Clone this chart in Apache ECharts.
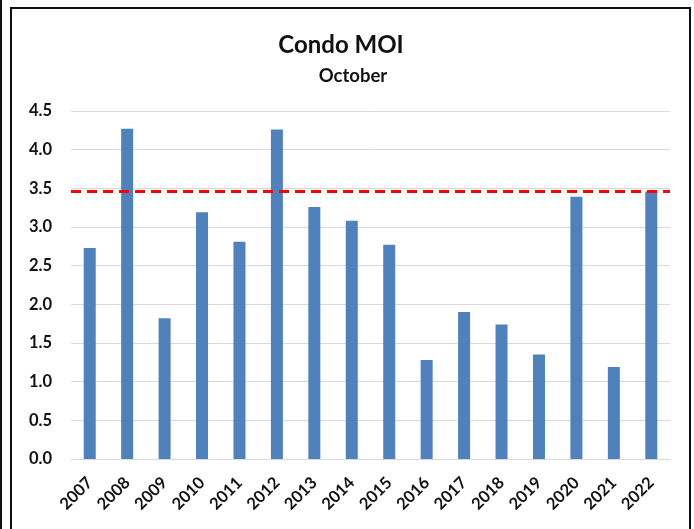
<!DOCTYPE html>
<html>
<head>
<meta charset="utf-8">
<script src="https://cdn.jsdelivr.net/npm/echarts@6/dist/echarts.min.js"></script>
<style>
  html, body { margin: 0; padding: 0; background: #fff; }
  #chart { width: 694px; height: 529px; }
</style>
</head>
<body>
<div id="chart"></div>
<script>
const years = ['2007', '2008', '2009', '2010', '2011', '2012', '2013', '2014',
  '2015', '2016', '2017', '2018', '2019', '2020', '2021', '2022']
const moi = [2.73, 4.27, 1.82, 3.19, 2.81, 4.26, 3.26, 3.08,
  2.77, 1.28, 1.90, 1.74, 1.35, 3.39, 1.19, 3.46]
const currentLevel = 3.46

const font = 'Lato, "Open Sans", sans-serif'
const chart = echarts.init(document.getElementById('chart'))

chart.setOption({
  animation: false,
  title: [{
    text: 'Condo MOI',
    left: 336,
    top: 28,
    textAlign: 'center',
    textStyle: { fontFamily: font, fontSize: 24, fontWeight: 'bold', color: '#111' }
  }, {
    text: 'October',
    left: 348,
    top: 62,
    textAlign: 'center',
    textStyle: { fontFamily: font, fontSize: 18.5, fontWeight: 'bold', color: '#111' }
  }],
  graphic: [
    { type: 'rect', shape: { x: 1, y: -5, width: 0, height: 540 }, style: { stroke: '#111', lineWidth: 2, fill: null } },
    { type: 'rect', shape: { x: 11, y: 8, width: 679, height: 540 }, style: { stroke: '#111', lineWidth: 2, fill: null } }
  ],
  grid: { left: 71, right: 24, top: 111, bottom: 70 },
  xAxis: {
    type: 'category',
    data: years,
    axisLine: { lineStyle: { color: '#d9d9d9' } },
    axisTick: { show: false },
    axisLabel: {
      rotate: 45,
      margin: 21,
      interval: 0,
      fontFamily: font,
      fontSize: 16.5,
      fontWeight: 'bold',
      color: '#111'
    }
  },
  yAxis: {
    type: 'value',
    min: 0,
    max: 4.5,
    interval: 0.5,
    axisLine: { show: false },
    axisTick: { show: false },
    splitLine: { lineStyle: { color: '#d9d9d9', width: 1 } },
    axisLabel: {
      margin: 19,
      fontFamily: font,
      fontSize: 16.5,
      fontWeight: 'bold',
      color: '#111',
      formatter: function(v) { return v.toFixed(1) }
    }
  },
  series: [{
    type: 'bar',
    data: moi,
    barWidth: 12,
    itemStyle: { color: '#4F81BD' },
    markLine: {
      silent: true,
      symbol: 'none',
      label: { show: false },
      lineStyle: { color: '#ff0000', width: 3, type: [10, 6] },
      data: [{ yAxis: currentLevel }]
    }
  }]
})
</script>
</body>
</html>
